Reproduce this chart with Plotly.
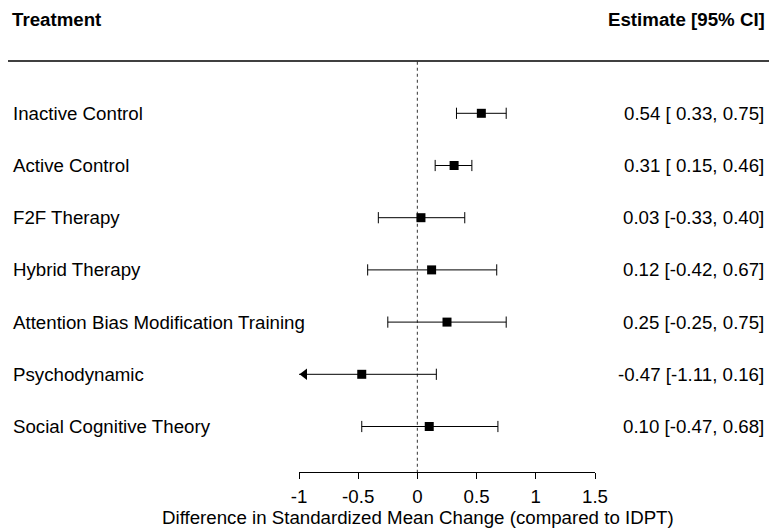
import plotly.graph_objects as go

# data
treatments = ["Inactive Control", "Active Control", "F2F Therapy", "Hybrid Therapy",
              "Attention Bias Modification Training", "Psychodynamic", "Social Cognitive Theory"]
estimate = [0.54, 0.31, 0.03, 0.12, 0.25, -0.47, 0.10]
lower = [0.33, 0.15, -0.33, -0.42, -0.25, -1.11, -0.47]
upper = [0.75, 0.46, 0.40, 0.67, 0.75, 0.16, 0.68]
tick_vals = [-1, -0.5, 0, 0.5, 1, 1.5]
tick_labels = ["-1", "-0.5", "0", "0.5", "1", "1.5"]

alim = (-1, 1.5)
k = len(treatments)
rows = list(range(k, 0, -1))

FONT = "Liberation Sans, Arial, sans-serif"
FS = 18.7
# the page puts the figure 8px in from the top-left corner, so size it to fit the window
OFF = 8
W, H = 777 - OFF, 531 - OFF


def fx(px):
    # page pixel -> paper fraction
    return (px - OFF) / W


# CI segments, clipped to the axis limits
ci_x, ci_y = [], []
cap_x, cap_y = [], []
arr_x, arr_y = [], []
px_per_unit = (595 - 299) / (alim[1] - alim[0])
for y, lo, hi in zip(rows, lower, upper):
    ci_x += [max(lo, alim[0]), min(hi, alim[1]), None]
    ci_y += [y, y, None]
    if lo >= alim[0]:
        cap_x.append(lo)
        cap_y.append(y)
    else:
        arr_x.append(alim[0] + 5.5 / px_per_unit)
        arr_y.append(y)
    if hi <= alim[1]:
        cap_x.append(hi)
        cap_y.append(y)

fig = go.Figure()

# reference line at 0
fig.add_trace(go.Scatter(x=[0, 0], y=[0, k + 1], mode="lines",
                         line=dict(color="#555555", width=1.2, dash="dot"),
                         hoverinfo="skip", showlegend=False))

fig.add_trace(go.Scatter(x=ci_x, y=ci_y, mode="lines",
                         line=dict(color="black", width=1),
                         hoverinfo="skip", showlegend=False))
fig.add_trace(go.Scatter(x=cap_x, y=cap_y, mode="markers",
                         marker=dict(symbol="line-ns", size=8,
                                     line=dict(color="black", width=1)),
                         hoverinfo="skip", showlegend=False))
fig.add_trace(go.Scatter(x=arr_x, y=arr_y, mode="markers", cliponaxis=False,
                         marker=dict(symbol="triangle-left", size=10, color="black"),
                         hoverinfo="skip", showlegend=False))
fig.add_trace(go.Scatter(x=estimate, y=rows, mode="markers",
                         marker=dict(symbol="square", size=9, color="black"),
                         showlegend=False))

annotations = []
for y, name, e, lo, hi in zip(rows, treatments, estimate, lower, upper):
    annotations.append(dict(xref="paper", yref="y", x=fx(11), y=y, text=name,
                            xanchor="left", yanchor="middle", showarrow=False,
                            font=dict(family=FONT, size=FS, color="black")))
    annotations.append(dict(xref="paper", yref="y", x=fx(766), y=y,
                            text=f"{e:.2f} [{lo:5.2f}, {hi:.2f}]",
                            xanchor="right", yanchor="middle", showarrow=False,
                            font=dict(family=FONT, size=FS, color="black")))

# headers sit at the very top of the figure
annotations.append(dict(xref="paper", yref="paper", x=fx(11), y=1, text="<b>Treatment</b>",
                        xanchor="left", yanchor="top", showarrow=False, borderpad=0,
                        font=dict(family=FONT, size=FS, color="black")))
annotations.append(dict(xref="paper", yref="paper", x=fx(766), y=1, text="<b>Estimate [95% CI]</b>",
                        xanchor="right", yanchor="top", showarrow=False, borderpad=0,
                        font=dict(family=FONT, size=FS, color="black")))
annotations.append(dict(xref="paper", yref="paper", x=fx(418), y=-(517 - 472) / (472 - OFF),
                        text="Difference in Standardized Mean Change (compared to IDPT)",
                        xanchor="center", yanchor="middle", showarrow=False,
                        font=dict(family=FONT, size=FS, color="black")))

fig.update_layout(
    width=W, height=H,
    margin=dict(l=0, r=0, t=0, b=531 - 472, autoexpand=False),
    paper_bgcolor="white", plot_bgcolor="white",
    xaxis=dict(domain=[fx(299), fx(595)], range=list(alim), automargin=False,
               tickvals=tick_vals, ticktext=tick_labels,
               ticks="outside", ticklen=6, tickcolor="black", tickwidth=1,
               showline=True, linecolor="black", linewidth=1,
               showgrid=False, zeroline=False, ticklabelstandoff=2,
               tickfont=dict(family=FONT, size=FS, color="black")),
    yaxis=dict(range=[7 - (472 - 113.3) / 52.2, 7 + (113.3 - OFF) / 52.2],
               visible=False, automargin=False, showgrid=False, zeroline=False),
    shapes=[dict(type="line", xref="paper", yref="y", x0=0, x1=1, y0=k + 1, y1=k + 1,
                 line=dict(color="black", width=1.5))],
    annotations=annotations,
)

fig.write_html("out.html")
